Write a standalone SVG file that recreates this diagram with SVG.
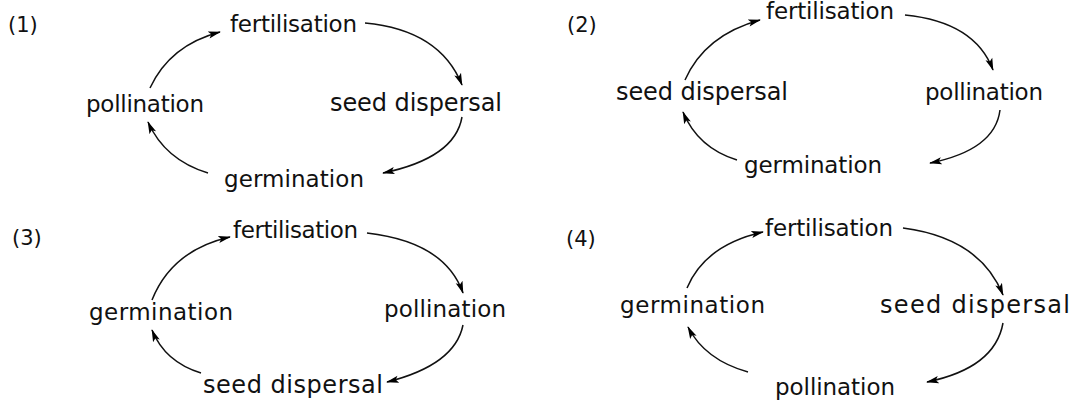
<svg xmlns="http://www.w3.org/2000/svg" width="1069" height="405" viewBox="0 0 1069 405">
<defs>
<marker id="ah" viewBox="0 0 14 10" markerWidth="13" markerHeight="9" refX="13" refY="5" orient="auto" markerUnits="userSpaceOnUse">
<path d="M0,1 L14,5 L0,9 L3,5 z" fill="#000"/>
</marker>
</defs>
<style>
text{font-family:"DejaVu Sans","Liberation Sans",sans-serif;font-size:23px;fill:#111}
.sd{font-size:24px}
.num{font-size:21px}
.c{fill:none;stroke:#111;stroke-width:1.5;marker-end:url(#ah)}
</style>
<rect width="1069" height="405" fill="#fff"/>
<g id="panel1">
<text class="num" x="8" y="32">(1)</text>
<g id="p1-fertilisation"><text x="230" y="32" textLength="127" lengthAdjust="spacing">fertilisation</text></g>
<g id="p1-seed-dispersal"><text class="sd" x="330" y="111" textLength="172" lengthAdjust="spacing">seed dispersal</text></g>
<g id="p1-germination"><text x="224" y="187" textLength="140" lengthAdjust="spacing">germination</text></g>
<g id="p1-pollination"><text x="86" y="112" textLength="118" lengthAdjust="spacing">pollination</text></g>
</g>
<g id="panel2">
<text class="num" x="567" y="32">(2)</text>
<g id="p2-fertilisation"><text x="766" y="19" textLength="128" lengthAdjust="spacing">fertilisation</text></g>
<g id="p2-pollination"><text x="925" y="100" textLength="118" lengthAdjust="spacing">pollination</text></g>
<g id="p2-germination"><text x="744" y="173" textLength="138" lengthAdjust="spacing">germination</text></g>
<g id="p2-seed-dispersal"><text class="sd" x="616" y="100" textLength="172" lengthAdjust="spacing">seed dispersal</text></g>
</g>
<g id="panel3">
<text class="num" x="12" y="245">(3)</text>
<g id="p3-fertilisation"><text x="233" y="238" textLength="125" lengthAdjust="spacing">fertilisation</text></g>
<g id="p3-pollination"><text x="384" y="317" textLength="122" lengthAdjust="spacing">pollination</text></g>
<g id="p3-seed-dispersal"><text class="sd" x="203" y="393" textLength="180" lengthAdjust="spacing">seed dispersal</text></g>
<g id="p3-germination"><text x="89" y="320" textLength="144" lengthAdjust="spacing">germination</text></g>
</g>
<g id="panel4">
<text class="num" x="566" y="246">(4)</text>
<g id="p4-fertilisation"><text x="765" y="236" textLength="128" lengthAdjust="spacing">fertilisation</text></g>
<g id="p4-seed-dispersal"><text class="sd" x="880" y="313" textLength="190" lengthAdjust="spacing">seed dispersal</text></g>
<g id="p4-pollination"><text x="775" y="395" textLength="120" lengthAdjust="spacing">pollination</text></g>
<g id="p4-germination"><text x="620" y="313" textLength="145" lengthAdjust="spacing">germination</text></g>
</g>
<g id="connectors">
<path class="c" d="M365,23 Q440,30 462,85"/>
<path class="c" d="M462,117 Q455,158 383,173"/>
<path class="c" d="M208,173 Q165,160 148,122"/>
<path class="c" d="M150,88 Q170,45 220,32"/>
<path class="c" d="M905,15 Q975,22 993,70"/>
<path class="c" d="M1000,110 Q995,150 930,163"/>
<path class="c" d="M737,160 Q698,148 683,112"/>
<path class="c" d="M685,80 Q705,35 760,20"/>
<path class="c" d="M367,233 Q445,242 463,293"/>
<path class="c" d="M463,325 Q455,365 387,382"/>
<path class="c" d="M201,373 Q165,362 152,330"/>
<path class="c" d="M152,300 Q172,250 230,237"/>
<path class="c" d="M903,228 Q980,238 1003,295"/>
<path class="c" d="M1003,323 Q995,368 927,382"/>
<path class="c" d="M748,372 Q705,360 688,327"/>
<path class="c" d="M687,288 Q705,245 763,232"/>
</g>
</svg>
